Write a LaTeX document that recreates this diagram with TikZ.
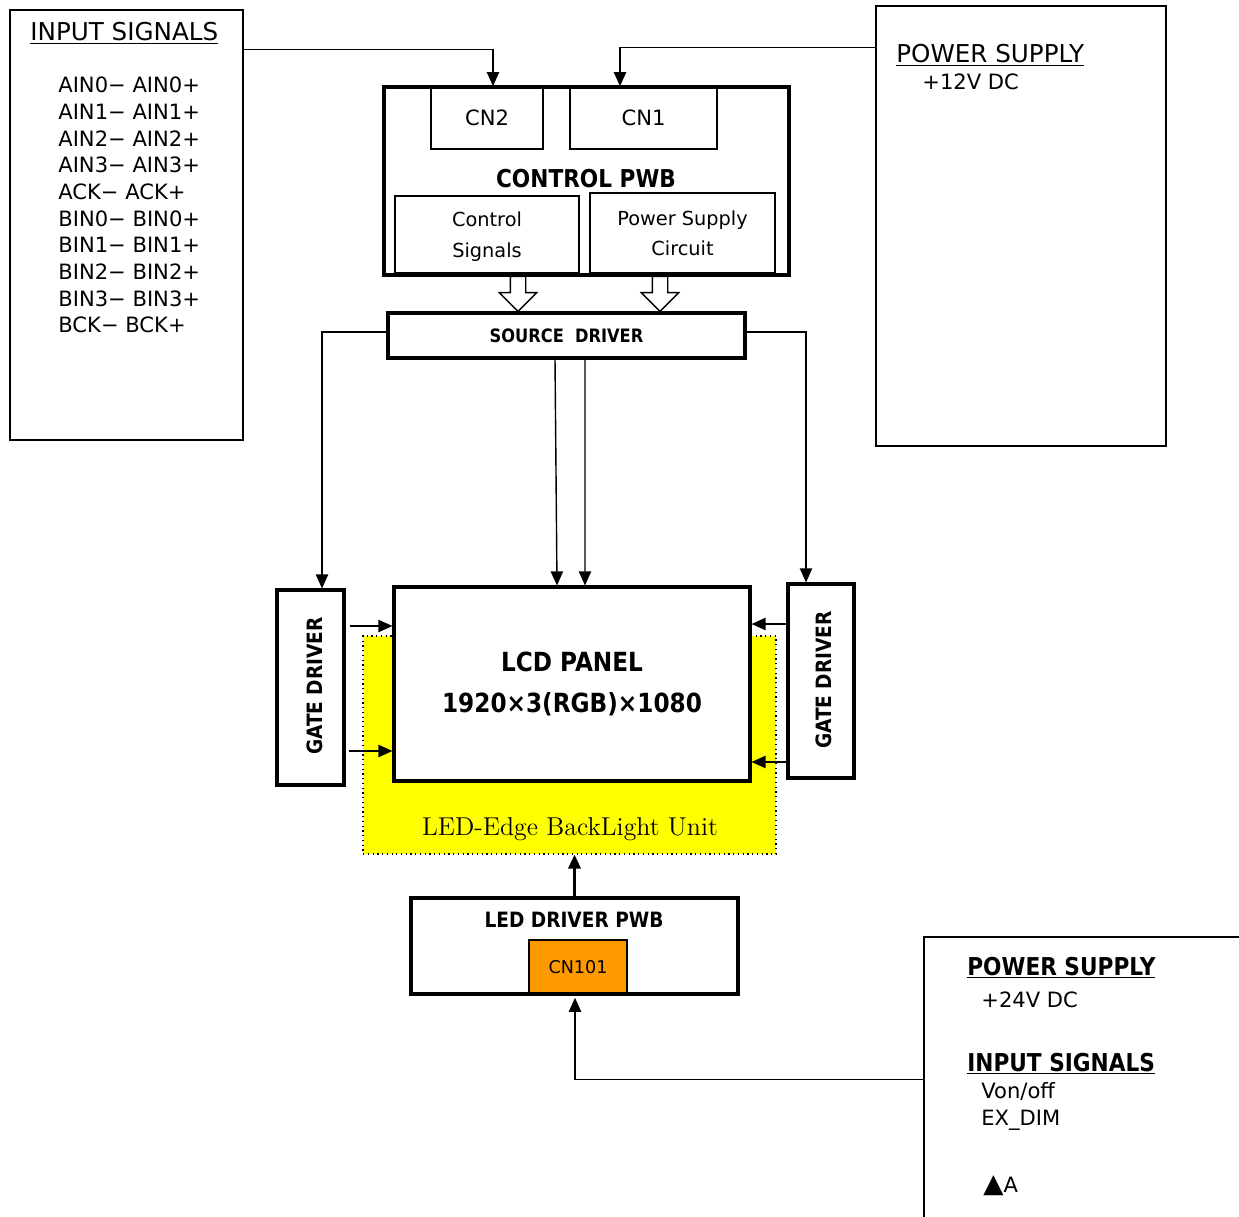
\documentclass[tikz,border=0pt]{standalone}
\usepackage{fontspec}
\setsansfont{DejaVu Sans}[BoldFeatures={FakeStretch=0.88}]
\renewcommand{\familydefault}{\sfdefault}
\usetikzlibrary{positioning,shapes.arrows,arrows.meta,calc}
\definecolor{bluyellow}{RGB}{255,255,0}
\definecolor{cnorange}{RGB}{255,153,0}
\tikzset{pwb/.style={draw,line width=1.8pt,inner sep=0pt,align=center},
cnbox/.style={draw,line width=0.9pt,inner sep=0pt,align=center},
frame/.style={draw,line width=0.8pt,inner sep=0pt},
sig/.style={-{Triangle[length=8pt,width=7pt]},line width=0.8pt},
fat/.style={single arrow,draw,fill=white,line width=0.8pt,shape border rotate=270,inner sep=0.14cm,minimum height=0.7cm,minimum width=0.72cm,single arrow head extend=0.22cm},
txt/.style={font=\fontsize{12}{14}\selectfont},
ttl/.style={font=\bfseries\fontsize{14}{16}\selectfont}}

\begin{document}
\begin{tikzpicture}[x=0.02cm,y=-0.02cm]
\useasboundingbox (0,0) rectangle (1239,1216);
\node[frame,minimum width=4.66cm,minimum height=8.6cm] (insig) at (126.5,225) {};
\node[anchor=base west,inner sep=0pt,font=\fontsize{14}{16}\selectfont] (insigttl) at (30,41) {\underline{INPUT SIGNALS}};
\foreach \sg [count=\i from 0] in {AIN0,AIN1,AIN2,AIN3,ACK,BIN0,BIN1,BIN2,BIN3,BCK}
  \node[txt,anchor=west,inner sep=0pt] (sig\i) at (58,85+26.67*\i) {\sg{}− \sg+};

\node[frame,minimum width=5.8cm,minimum height=8.8cm] (psup) at (1021,226) {};
\node[anchor=base west,inner sep=0pt,font=\fontsize{14}{16}\selectfont] (psupttl) at (896,63) {\underline{POWER SUPPLY}};
\node[txt,anchor=base west,inner sep=0pt] (psupv) at (922,90) {+12V DC};

\node[pwb,minimum width=8.1cm,minimum height=3.76cm] (ctl) at (586.5,181) {};
\node[cnbox,txt,minimum width=2.24cm,minimum height=1.24cm] (cn2) at (487,118) {CN2};
\node[cnbox,txt,minimum width=2.94cm,minimum height=1.24cm] (cn1) at (643.5,118) {CN1};
\node[ttl] (ctlttl) at (586,179) {CONTROL PWB};
\node[cnbox,minimum width=3.68cm,minimum height=1.54cm,font=\fontsize{11}{17.5}\selectfont,text depth=0pt] (csig) at (487,234.5) {Control\\Signals};
\node[cnbox,minimum width=3.7cm,minimum height=1.6cm,font=\fontsize{11}{17}\selectfont,text depth=0pt] (pcir) at (682.5,233) {Power Supply\\Circuit};
\node[fat] (csigarr) at (518,290) {};
\node[fat] (pcirarr) at (660,290) {};

\node[pwb,minimum width=7.14cm,minimum height=0.9cm,font=\bfseries\fontsize{10.5}{12}\selectfont] (src) at (566.5,335.5) {SOURCE\ \ DRIVER};

\node[draw,dotted,line width=0.7pt,fill=bluyellow,minimum width=8.26cm,minimum height=4.36cm] (blu) at (569.5,745) {};
\node[font=\rmfamily\fontsize{14.7}{16}\selectfont] (bluttl) at (570,829) {LED-Edge BackLight Unit};
\node[pwb,fill=white,minimum width=7.12cm,minimum height=3.88cm,font=\bfseries\fontsize{15}{23}\selectfont] (lcd) at (572,684) {LCD PANEL\\1920×3(RGB)×1080};
\node[pwb,minimum width=1.34cm,minimum height=3.9cm] (gatel) at (310.5,687.5) {};
\node[rotate=90,font=\bfseries\fontsize{12}{14}\selectfont] (gatelttl) at (315,686) {GATE DRIVER};
\node[pwb,minimum width=1.32cm,minimum height=3.88cm] (gater) at (821,681) {};
\node[rotate=90,font=\bfseries\fontsize{12}{14}\selectfont] (gaterttl) at (824,680) {GATE DRIVER};

\node[cnbox,fill=cnorange,minimum width=1.96cm,minimum height=1.08cm,font=\fontsize{10}{12}\selectfont] (cn101) at (578,967) {CN101};
\node[pwb,minimum width=6.54cm,minimum height=1.92cm] (led) at (574.5,946) {};
\node[font=\bfseries\fontsize{12}{14}\selectfont] (ledttl) at (574,920) {LED DRIVER PWB};

\node[frame,minimum width=6.32cm,minimum height=5.62cm] (psup24) at (1082,1077.5) {};
\node[anchor=base west,inner sep=0pt,ttl] (psup24ttl) at (967,975) {\underline{POWER SUPPLY}};
\node[txt,anchor=base west,inner sep=0pt] (psup24v) at (981,1007) {+24V DC};
\node[anchor=base west,inner sep=0pt,ttl] (ledsigttl) at (967,1071) {\underline{INPUT SIGNALS}};
\node[txt,anchor=base west,inner sep=0pt] (vonoff) at (981,1098) {Von/off};
\node[txt,anchor=base west,inner sep=0pt] (exdim) at (981,1125) {EX\_DIM};
\node[txt,anchor=base west,inner sep=0pt] (amark) at (983,1192) {{\fontsize{15}{14}\selectfont ▲}A};

\draw[sig] ($(insig.north east)+(0,40)$) -| ([xshift=0.12cm]cn2.north);
\draw[sig] ($(psup.north west)+(0,42)$) -| ([xshift=-0.47cm]cn1.north);
\draw[sig] ([yshift=0.07cm]src.west) -| ([xshift=0.23cm]gatel.north);
\draw[sig] ([yshift=0.07cm]src.east) -| ([xshift=-0.3cm]gater.north);
\draw[sig] ([xshift=-0.23cm]src.south) -- ([xshift=-0.3cm]lcd.north);
\draw[sig] ([xshift=0.37cm]src.south) -- ([xshift=0.26cm]lcd.north);
\draw[sig] ([xshift=0.08cm,yshift=1.23cm]gatel.east) -- ([yshift=1.23cm]gatel.east -| lcd.west);
\draw[sig] ([xshift=0.06cm,yshift=-1.27cm]gatel.east) -- ([yshift=-1.27cm]gatel.east -| lcd.west);
\draw[sig] ([yshift=1.14cm]gater.west) -- ([yshift=1.14cm]gater.west -| lcd.east);
\draw[sig] ([yshift=-1.62cm]gater.west) -- ([yshift=-1.62cm]gater.west -| lcd.east);
\draw[sig,line width=1.6pt] (led.north) -- (led.north |- blu.south);
\draw[sig] ($(psup24.north west)+(0,143)$) -| ([xshift=-0.06cm,yshift=-0.06cm]cn101.south);
\end{tikzpicture}
\end{document}
